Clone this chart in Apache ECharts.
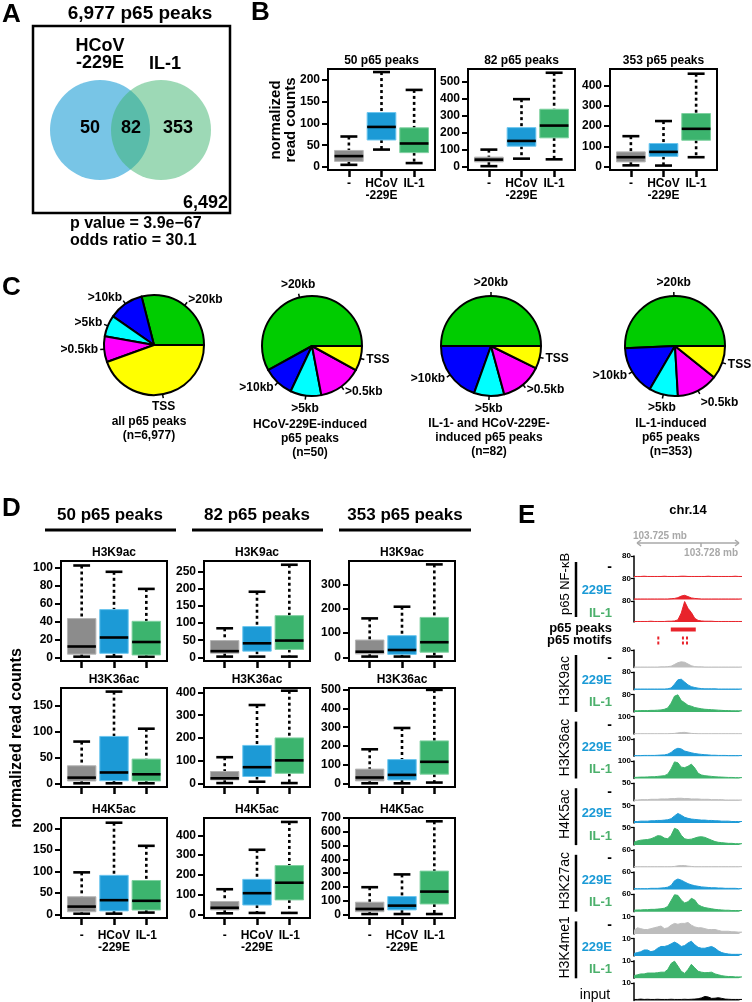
<!DOCTYPE html>
<html><head><meta charset="utf-8">
<script src="https://cdn.jsdelivr.net/npm/echarts@6.0.0/dist/echarts.min.js"></script>
<style>html,body{margin:0;padding:0;background:#fff;}#chart{width:752px;height:1002px;}</style>
</head><body><div id="chart"></div>
<script>
// ================= DATA =================
// Panel A
const vennTitle = '6,977 p65 peaks';
const vennSets = ['HCoV\n-229E', 'IL-1'];
const vennCounts = ['50', '82', '353'];
const vennOutside = '6,492';
const vennStats = ['p value = 3.9e\u221267', 'odds ratio = 30.1'];

// Panel B / D box plots: each row = [low whisker, Q1, median, Q3, high whisker]
const conditions = ['-', 'HCoV\n-229E', 'IL-1'];
const bTitles = ['50 p65 peaks', '82 p65 peaks', '353 p65 peaks'];
const b50 = [[5, 13, 25, 38, 70], [40, 62, 92, 125, 218], [9, 33, 54, 90, 177]];
const b82 = [[5, 30, 43, 58, 102], [49, 122, 153, 231, 398], [45, 171, 243, 339, 553]];
const b353 = [[8, 25, 48, 74, 151], [7, 52, 74, 115, 225], [48, 131, 187, 262, 457]];
const bMax = [225, 575, 480];
const bTicks = [[0, 50, 100, 150, 200], [0, 100, 200, 300, 400, 500], [0, 100, 200, 300, 400]];

const dGroups = ['50 p65 peaks', '82 p65 peaks', '353 p65 peaks'];
const dMarks = ['H3K9ac', 'H3K36ac', 'H4K5ac'];
const d50_H3K9ac = [[0.7, 3.5, 12, 43, 102], [0.7, 4.4, 22, 53, 95], [0.7, 2.6, 17, 40, 76]];
const d82_H3K9ac = [[2, 12, 18, 49, 85], [2, 18, 41, 90, 192], [2, 23, 49, 122, 271]];
const d353_H3K9ac = [[3, 14, 23, 71, 160], [3, 12, 30, 89, 208], [3, 21, 62, 164, 382]];
const d50_H3K36ac = [[0, 4.5, 11, 34, 81], [0, 5, 21, 91, 178], [0, 4.5, 17.5, 47, 106]];
const d82_H3K36ac = [[1, 15, 22, 52, 115], [7, 30, 71, 167, 345], [1, 44, 101, 200, 408]];
const d353_H3K36ac = [[0, 13, 31, 76, 182], [0, 18, 45, 127, 296], [4, 49, 115, 227, 500]];
const d50_H4K5ac = [[1.5, 6, 18, 41, 98], [1.5, 8, 33, 91, 214], [4, 10, 31.5, 79, 160]];
const d82_H4K5ac = [[5, 22, 33, 65, 127], [7, 47, 107, 177, 327], [7, 73, 160, 247, 468]];
const d353_H4K5ac = [[2, 19, 39, 88, 197], [2, 32, 63, 129, 290], [2, 75, 165, 314, 676]];
const dMax = [[107, 282, 396], [185, 420, 510], [225, 488, 700]];
const dTicks = [
  [[0, 20, 40, 60, 80, 100], [0, 50, 100, 150, 200, 250], [0, 100, 200, 300]],
  [[0, 50, 100, 150], [0, 100, 200, 300, 400], [0, 100, 200, 300, 400, 500]],
  [[0, 50, 100, 150, 200], [0, 100, 200, 300, 400], [0, 100, 200, 300, 400, 500, 600, 700]]
];

// Panel C pies (slice order: >20kb, >10kb, >5kb, >0.5kb, TSS)
const pieNames = ['>20kb', '>10kb', '>5kb', '>0.5kb', 'TSS'];
const pieAll = [29, 11.3, 6.9, 8.3, 44.5];
const pie50 = [29, 5, 5, 7, 4];
const pie82 = [41, 16, 8, 11, 6];
const pie353 = [179, 56, 33, 47, 38];
const pieCaptions = [
  ['all p65 peaks', '(n=6,977)'],
  ['HCoV-229E-induced', 'p65 peaks', '(n=50)'],
  ['IL-1- and HCoV-229E-', 'induced p65 peaks', '(n=82)'],
  ['IL-1-induced', 'p65 peaks', '(n=353)']
];

// Panel E genome tracks (33 bins across chr14:103.724-103.729 mb)
const p65None = [2,2,2,3,2,2,2,2,2,3,2,2,2,2,3,3,2,2,2,2,2,2,3,2,2,2,2,2,2,2,3,2,2];
const p65HCoV = [2,2,2,2,2,2,2,2,2,2,2,3,4,7,13,16,11,6,4,3,2,2,2,2,2,2,2,2,2,2,2,2,2];
const p65IL1 = [2,2,2,2,2,3,2,2,2,2,3,3,4,8,34,78,52,36,14,6,4,3,3,3,2,2,2,2,2,2,2,2,2];
const k9None = [2,2,2,2,2,2,2,2,3,3,4,6,14,22,26,24,16,8,4,3,3,2,2,2,2,2,2,2,2,2,2,2,2];
const k9HCoV = [3,3,3,3,3,3,3,3,3,3,4,8,25,45,48,35,22,14,10,7,5,4,4,4,4,3,3,3,3,3,3,3,3];
const k9IL1 = [5,5,6,6,6,7,7,8,9,12,18,40,72,78,52,42,30,26,20,17,14,12,11,10,9,8,7,6,6,5,5,5,5];
const k36None = [2,2,2,2,2,2,2,2,2,2,2,3,4,7,9,10,7,4,3,2,2,2,2,2,2,2,2,2,2,2,2,2,2];
const k36HCoV = [4,4,4,5,5,5,5,6,7,8,12,22,38,46,42,30,25,20,16,13,11,9,8,6,6,5,5,5,4,4,4,4,4];
const k36IL1 = [6,7,8,8,9,10,10,12,14,16,25,55,95,90,65,62,70,82,60,30,20,16,14,12,10,9,8,7,6,6,5,5,5];
const k5None = [2,2,3,3,3,4,4,4,5,5,5,6,6,7,7,6,6,5,5,5,4,4,4,3,3,3,3,2,2,2,2,2,2];
const k5HCoV = [4,4,5,5,5,6,6,7,7,8,9,12,20,27,22,16,13,11,10,9,8,8,7,7,6,6,5,5,5,4,4,4,4];
const k5IL1 = [8,12,14,15,16,18,22,27,26,20,18,28,48,44,28,18,16,17,20,23,24,22,18,14,10,8,7,6,5,5,4,4,4];
const k27None = [2,2,2,2,2,2,2,2,2,2,2,2,3,5,6,6,4,3,2,2,2,2,2,2,2,2,2,2,2,2,2,2,2];
const k27HCoV = [3,3,3,3,3,4,4,4,5,6,8,14,30,36,32,26,20,16,13,11,9,8,7,6,6,5,5,4,4,4,4,3,3];
const k27IL1 = [5,6,6,7,7,8,8,9,10,12,18,38,58,56,40,30,34,46,40,24,18,14,12,10,8,7,6,5,5,4,4,4,4];
const me1None = [2,3.5,3,2.5,2.5,3,3.5,4,4.5,3,3.5,5,6,5.5,6,6,6.5,5,4,3.5,3.5,3,2.5,2.5,2.5,2,1.5,1.5,1.5,1.2,1.2,1,1];
const me1HCoV = [1.5,2,2.5,3.5,3.5,2.5,3,4.5,5.5,5.5,6,7,8,7,5.5,6,7.5,8.5,6.5,5,4.5,4.5,5,5.5,4.5,3,2,1.5,1.2,1,1,1,1];
const me1IL1 = [1.5,2,2.5,2.5,3,3,3,3.2,3.5,3.5,5,8.5,9.8,7,4,2.8,5,8,6,4,3.5,3.2,3.3,3.5,2.5,2,1.5,1.2,1,1,0.8,0.8,0.8];
const inputTrack = [0.6,0.6,0.8,0.6,0.7,0.6,0.6,0.7,0.6,0.6,0.6,0.7,0.6,0.6,0.6,0.7,0.6,0.7,0.8,1,1.5,2.3,2,1.2,1.3,1.6,1.2,0.8,0.7,0.6,0.6,0.6,0.6];
const eTrackMax = [80, 80, 80, 80, 80, 80, 100, 100, 100, 50, 50, 50, 60, 60, 60, 10, 10, 10, 10];
const eGroups = ['H3K9ac', 'H3K36ac', 'H4K5ac', 'H3K27ac', 'H3K4me1'];
const eConds = ['-', '229E', 'IL-1'];
const ePeaks = [[10.9, 18.3]];
const eMotifs = [7.2, 14.5, 15.7];
const eCoords = ['103.725 mb', '103.728 mb'];
const eChrom = 'chr.14';

// ================= BUILD =================
const F = '"Liberation Sans", Arial, Helvetica, sans-serif';
const grids = [], xAxes = [], yAxes = [], series = [], graphics = [];
const BOXC = ['#8c8c8c', '#1c9ad6', '#3cb46e'];
const BOXS = ['#b4b4b4', '#6cc6ef', '#7fd1a0'];
const PIEC = ['#00cc00', '#0000ff', '#00ffff', '#ff00ff', '#ffff00'];
const RED = '#e8232b', GRAY = '#bdbdbd', BLUE = '#1f9bd7', GREEN = '#3db36b';

function T(x, y, text, size, opt) {
  opt = opt || {};
  const al = opt.align || 'center', va = opt.va || 'middle';
  graphics.push({type: 'text', x: x, y: y, rotation: opt.rot || 0, silent: true, z: 100,
    style: {text: text, fill: opt.color || '#000', fontSize: size, fontWeight: opt.weight || 'bold', fontFamily: F,
      align: al, verticalAlign: va, textAlign: al, textVerticalAlign: va, lineHeight: opt.lh || Math.round(size * 1.15)}});
}
function L(x1, y1, x2, y2, w, color, dash) {
  graphics.push({type: 'line', silent: true, z: 100, shape: {x1: x1, y1: y1, x2: x2, y2: y2},
    style: {stroke: color || '#000', lineWidth: w, lineDash: dash || null}});
}

function boxRender(params, api) {
  const i = api.value(0);
  const lo = api.coord([i, api.value(1)]);
  const q1 = api.coord([i, api.value(2)]);
  const md = api.coord([i, api.value(3)]);
  const q3 = api.coord([i, api.value(4)]);
  const hi = api.coord([i, api.value(5)]);
  const unit = api.size([1, 0])[0];
  const bw = unit * 0.88, cw = unit * 0.52, x = lo[0];
  const k = params.dataIndex;
  return {type: 'group', children: [
    {type: 'line', shape: {x1: x, y1: hi[1], x2: x, y2: q3[1]}, style: {stroke: '#000', lineWidth: 2.6, lineDash: [3, 3]}},
    {type: 'line', shape: {x1: x, y1: q1[1], x2: x, y2: lo[1]}, style: {stroke: '#000', lineWidth: 2.6, lineDash: [3, 3]}},
    {type: 'line', shape: {x1: x - cw / 2, y1: hi[1], x2: x + cw / 2, y2: hi[1]}, style: {stroke: '#000', lineWidth: 2.6}},
    {type: 'line', shape: {x1: x - cw / 2, y1: lo[1], x2: x + cw / 2, y2: lo[1]}, style: {stroke: '#000', lineWidth: 2.6}},
    {type: 'rect', shape: {x: x - bw / 2, y: q3[1], width: bw, height: q1[1] - q3[1]}, style: {fill: BOXC[k], stroke: BOXS[k], lineWidth: 1}},
    {type: 'line', shape: {x1: x - bw / 2, y1: md[1], x2: x + bw / 2, y2: md[1]}, style: {stroke: '#000', lineWidth: 2.6}}
  ]};
}

function addBoxGrid(left, top, width, height, ymax, ticks, data, showX, pad, title) {
  const gi = grids.length;
  grids.push({left: left, top: top, width: width, height: height, show: true, borderColor: '#000', borderWidth: 2, backgroundColor: 'transparent'});
  xAxes.push({gridIndex: gi, type: 'value', min: -0.64, max: 2.64, axisLine: {show: false, onZero: false}, splitLine: {show: false},
    axisTick: {show: true, customValues: [0, 1, 2], length: 7, lineStyle: {color: '#000', width: 2.5}},
    axisLabel: {show: !!showX, customValues: [0, 1, 2], formatter: function (v) { return conditions[Math.round(v)]; },
      fontSize: 12, fontWeight: 'bold', color: '#000', fontFamily: F, margin: showX === 'B' ? 8 : 12, lineHeight: 12}});
  const ymin = -pad * ymax / (height - pad);
  yAxes.push({gridIndex: gi, type: 'value', min: ymin, max: ymax, axisLine: {show: false, onZero: false}, splitLine: {show: false},
    axisTick: {show: true, customValues: ticks, length: 6, lineStyle: {color: '#000', width: 2}},
    axisLabel: {customValues: ticks, fontSize: 12, fontWeight: 'bold', color: '#000', fontFamily: F, margin: 8}});
  series.push({type: 'custom', xAxisIndex: gi, yAxisIndex: gi, renderItem: boxRender, clip: false, silent: true,
    data: data.map(function (d, i) { return [i].concat(d); })});
  T(left + width / 2, top - 8.5, title, 12);
}

// ---- Panel A ----
T(2, 15, 'A', 26, {align: 'left'});
T(140, 14, vennTitle, 19);
graphics.push({type: 'rect', silent: true, shape: {x: 33, y: 26, width: 197, height: 187}, style: {fill: 'none', stroke: '#000', lineWidth: 2.5}});
graphics.push({type: 'circle', silent: true, shape: {cx: 100, cy: 130, r: 50}, style: {fill: 'rgba(30,158,214,0.6)'}});
graphics.push({type: 'circle', silent: true, shape: {cx: 161, cy: 130, r: 50}, style: {fill: 'rgba(60,179,110,0.5)'}});
T(100, 55, vennSets[0], 18, {lh: 17});
T(165, 64, vennSets[1], 18);
T(90, 128, vennCounts[0], 18);
T(131, 128, vennCounts[1], 18);
T(178, 128, vennCounts[2], 18);
T(228, 203, vennOutside, 18, {align: 'right'});
T(70, 224, vennStats[0], 16, {align: 'left'});
T(70, 241, vennStats[1], 16, {align: 'left'});

// ---- Panel B ----
T(251, 13, 'B', 26, {align: 'left'});
T(283, 120, 'normalized\nread counts', 15, {rot: Math.PI / 2, lh: 15});
const bData = [b50, b82, b353];
const bLefts = [328, 468, 610];
for (let j = 0; j < 3; j++) addBoxGrid(bLefts[j], 69, 107, 101, bMax[j], bTicks[j], bData[j], 'B', 3, bTitles[j]);

// ---- Panel C ----
T(2, 288, 'C', 26, {align: 'left'});
const pieData = [pieAll, pie50, pie82, pie353];
const pieCenters = [[154, 345], [312, 346], [491, 346], [675, 346]];
const capX = [149, 310, 489, 671], capY = [422, 425, 424, 424];
function pieLabelLayout(p) {
  const pts = p.labelLinePoints;
  if (!pts || pts.length < 2) return {};
  const a = pts[0], b = pts[1];
  let dx = b[0] - a[0], dy = b[1] - a[1];
  const len = Math.hypot(dx, dy) || 1; dx /= len; dy /= len;
  const align = Math.abs(dx) < 0.4 ? 'center' : (dx > 0 ? 'left' : 'right');
  const va = Math.abs(dy) > 0.85 ? (dy > 0 ? 'top' : 'bottom') : 'middle';
  return {x: b[0] + dx * 2, y: b[1] + dy * 3, align: align, verticalAlign: va, labelLinePoints: pts};
}
for (let j = 0; j < 4; j++) {
  series.push({type: 'pie', center: pieCenters[j], radius: 50, startAngle: 0, clockwise: false, avoidLabelOverlap: false,
    silent: true, animation: false,
    itemStyle: {borderColor: '#000', borderWidth: 2},
    label: {show: true, position: 'outer', alignTo: 'none', formatter: '{b}', fontSize: 12, fontWeight: 'bold', color: '#000', fontFamily: F, distanceToLabelLine: 1},
    labelLine: {show: true, length: 4, length2: 0, lineStyle: {color: '#000', width: 1.5}},
    labelLayout: pieLabelLayout,
    data: pieNames.map(function (n, i) { return {name: n, value: pieData[j][i], itemStyle: {color: PIEC[i]}}; })});
  pieCaptions[j].forEach(function (s, k) { T(capX[j], capY[j] + k * 14, s, 12); });
}

// ---- Panel D ----
T(2, 509, 'D', 26, {align: 'left'});
const dHeadX = [110, 257, 405];
const dLineX = [[45, 176], [192, 323], [339, 471]];
for (let j = 0; j < 3; j++) {
  T(dHeadX[j], 515, dGroups[j], 17);
  L(dLineX[j][0], 530, dLineX[j][1], 530, 3);
}
T(17, 738, 'normalized read counts', 16, {rot: Math.PI / 2});
const dData = [[d50_H3K9ac, d82_H3K9ac, d353_H3K9ac], [d50_H3K36ac, d82_H3K36ac, d353_H3K36ac], [d50_H4K5ac, d82_H4K5ac, d353_H4K5ac]];
const dLefts = [61, 204, 349], dTops = [561, 688, 818], dHeights = [100, 99, 100];
for (let r = 0; r < 3; r++) for (let c = 0; c < 3; c++)
  addBoxGrid(dLefts[c], dTops[r], 106, dHeights[r], dMax[r][c], dTicks[r][c], dData[r][c], r === 2 ? 'D' : false, 3.7, dMarks[r]);

// ---- Panel E ----
T(518, 516, 'E', 26, {align: 'left'});
T(688, 510, eChrom, 13);
const GR = '#a8a8a8';
T(633, 536, eCoords[0], 10, {align: 'left', color: GR});
T(738, 553, eCoords[1], 10, {align: 'right', color: GR});
L(637, 543, 739, 543, 1.5, GR);
L(641, 540, 637, 543, 1.5, GR); L(637, 543, 641, 546, 1.5, GR);
L(735, 540, 739, 543, 1.5, GR); L(739, 543, 735, 546, 1.5, GR);
L(701, 543, 701, 547, 1.5, GR);

const trackVals = [p65None, p65HCoV, p65IL1, k9None, k9HCoV, k9IL1, k36None, k36HCoV, k36IL1,
  k5None, k5HCoV, k5IL1, k27None, k27HCoV, k27IL1, me1None, me1HCoV, me1IL1, inputTrack];
const trackColors = [RED, RED, RED, GRAY, BLUE, GREEN, GRAY, BLUE, GREEN, GRAY, BLUE, GREEN, GRAY, BLUE, GREEN, GRAY, BLUE, GREEN, '#000'];
function trackTop(t) { return t < 3 ? 556 + t * 22.5 : 650 + (t - 3) * 22.2; }
function trackH(t) { return t < 3 ? 21 : 17.5; }
trackVals.forEach(function (vals, t) {
  const gi = grids.length;
  const top = trackTop(t), h = trackH(t);
  grids.push({left: 634, top: top, width: 108, height: h, show: false});
  xAxes.push({gridIndex: gi, type: 'value', min: 0, max: 32, show: false, axisLine: {onZero: false}});
  yAxes.push({gridIndex: gi, type: 'value', min: 0, max: eTrackMax[t], splitLine: {show: false},
    axisLine: {show: true, onZero: false, lineStyle: {color: '#000', width: 1.5}},
    axisTick: {show: true, customValues: [eTrackMax[t]], length: 3, lineStyle: {color: '#000', width: 1.2}},
    axisLabel: {customValues: [eTrackMax[t]], fontSize: 8, fontWeight: 'bold', color: '#000', fontFamily: F, margin: 3}});
  series.push({type: 'line', xAxisIndex: gi, yAxisIndex: gi, silent: true, symbol: 'none', animation: false,
    data: vals.map(function (v, i) { return [i, v]; }),
    lineStyle: {color: trackColors[t], width: 1}, itemStyle: {color: trackColors[t]},
    areaStyle: {color: trackColors[t], opacity: 1}});
});
// peaks / motifs row
{
  const gi = grids.length;
  grids.push({left: 634, top: 624, width: 108, height: 22, show: false});
  xAxes.push({gridIndex: gi, type: 'value', min: 0, max: 32, show: false, axisLine: {onZero: false}});
  yAxes.push({gridIndex: gi, type: 'value', min: 0, max: 2, show: false, axisLine: {onZero: false}});
  series.push({type: 'custom', xAxisIndex: gi, yAxisIndex: gi, silent: true, clip: false,
    data: ePeaks,
    renderItem: function (p, api) {
      const a = api.coord([api.value(0), 1.5]), b = api.coord([api.value(1), 1.5]);
      return {type: 'rect', shape: {x: a[0], y: a[1] - 2, width: b[0] - a[0], height: 4}, style: {fill: RED}};
    }});
  series.push({type: 'custom', xAxisIndex: gi, yAxisIndex: gi, silent: true, clip: false,
    data: eMotifs.map(function (m) { return [m]; }),
    renderItem: function (p, api) {
      const a = api.coord([api.value(0), 0.5]);
      return {type: 'group', children: [
        {type: 'rect', shape: {x: a[0] - 1, y: a[1] - 4, width: 2, height: 3}, style: {fill: RED}},
        {type: 'rect', shape: {x: a[0] - 1, y: a[1] + 1, width: 2, height: 3}, style: {fill: RED}}
      ]};
    }});
}
T(612, 628, 'p65 peaks', 13, {align: 'right'});
T(612, 640, 'p65 motifs', 13, {align: 'right'});

// condition labels and group labels
const condColors = ['#000', '#1b9ad6', '#4cb06c'];
for (let t = 0; t < 18; t++) {
  const c = t % 3;
  const y = trackTop(t) + (t < 3 ? 11 + c * 0.7 : 8.5);
  T(612, y, eConds[c], c === 0 ? 14 : 13, {align: 'right', color: condColors[c], weight: 'bold'});
}
T(565, 584, 'p65 NF-\u03baB', 13, {rot: Math.PI / 2, weight: 'normal'});
L(576, 562, 576, 617, 2.5);
eGroups.forEach(function (g, k) {
  const top = 650 + 3 * k * 22.2;
  T(565, top + 31, g, 14, {rot: Math.PI / 2, weight: 'normal'});
  L(576, top + 5, 576, top + 2 * 22.2 + 17.5, 2.5);
});
T(595, 995, 'input', 14, {weight: 'normal'});

const chart = echarts.init(document.getElementById('chart'), null, {renderer: 'canvas', width: 752, height: 1002});
chart.setOption({
  animation: false,
  backgroundColor: '#fff',
  textStyle: {fontFamily: F},
  grid: grids, xAxis: xAxes, yAxis: yAxes, series: series, graphic: graphics
});
</script></body></html>
